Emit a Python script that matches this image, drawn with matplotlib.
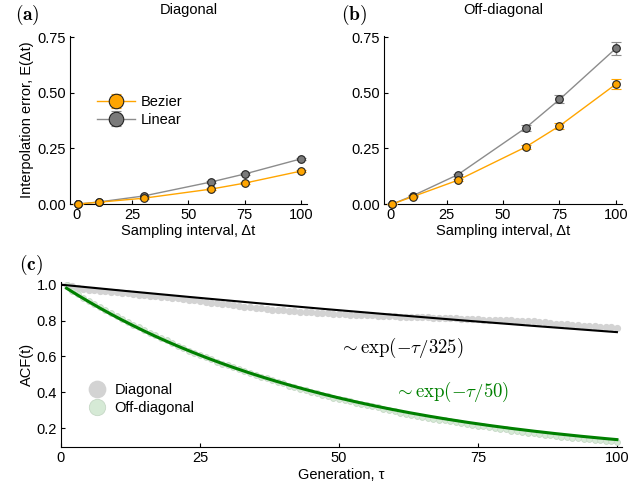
import numpy as np
import matplotlib
matplotlib.use("Agg")
import matplotlib.pyplot as plt

plt.rcParams['font.family'] = ['Liberation Sans', 'DejaVu Sans']
plt.rcParams['mathtext.fontset'] = 'cm'
plt.rcParams['font.size'] = 10

# ---- panel (a) and (b): interpolation error ----
dt = [1, 10, 30, 60, 75, 100]

diag_bezier = [0.0, 0.008, 0.026, 0.067, 0.094, 0.148]
diag_bezier_err = [0.0, 0.001, 0.002, 0.003, 0.004, 0.005]
diag_linear = [0.0, 0.009, 0.036, 0.099, 0.135, 0.203]
diag_linear_err = [0.0, 0.001, 0.002, 0.003, 0.004, 0.005]

off_bezier = [0.0, 0.033, 0.107, 0.256, 0.351, 0.539]
off_bezier_err = [0.0, 0.002, 0.004, 0.009, 0.015, 0.021]
off_linear = [0.0, 0.037, 0.132, 0.342, 0.470, 0.700]
off_linear_err = [0.0, 0.002, 0.005, 0.012, 0.018, 0.030]

# ---- panel (c): autocorrelation ----
gen = list(range(1, 101))
acf_diag = [1.000, 0.990, 0.980, 0.975, 0.970, 0.968, 0.965, 0.962, 0.960, 0.957,
            0.954, 0.951, 0.948, 0.945, 0.942, 0.939, 0.936, 0.933, 0.930, 0.927,
            0.924, 0.920, 0.916, 0.912, 0.908, 0.904, 0.900, 0.896, 0.893, 0.890,
            0.886, 0.882, 0.878, 0.874, 0.870, 0.867, 0.864, 0.861, 0.858, 0.856,
            0.854, 0.852, 0.850, 0.848, 0.846, 0.844, 0.842, 0.840, 0.838, 0.836,
            0.835, 0.833, 0.832, 0.831, 0.830, 0.828, 0.827, 0.826, 0.825, 0.823,
            0.822, 0.821, 0.820, 0.819, 0.818, 0.817, 0.816, 0.815, 0.814, 0.813,
            0.812, 0.811, 0.810, 0.808, 0.806, 0.805, 0.804, 0.803, 0.803, 0.802,
            0.801, 0.800, 0.800, 0.798, 0.795, 0.792, 0.789, 0.786, 0.783, 0.780,
            0.778, 0.776, 0.774, 0.772, 0.770, 0.768, 0.766, 0.764, 0.762, 0.760]
acf_off = [1.000, 0.966, 0.947, 0.928, 0.910, 0.892, 0.874, 0.857, 0.840, 0.824,
           0.808, 0.792, 0.776, 0.761, 0.746, 0.731, 0.717, 0.703, 0.689, 0.675,
           0.657, 0.644, 0.631, 0.619, 0.607, 0.595, 0.583, 0.571, 0.560, 0.549,
           0.538, 0.527, 0.517, 0.507, 0.497, 0.487, 0.477, 0.468, 0.458, 0.449,
           0.435, 0.427, 0.418, 0.410, 0.402, 0.394, 0.386, 0.378, 0.370, 0.363,
           0.356, 0.348, 0.341, 0.335, 0.328, 0.321, 0.315, 0.308, 0.302, 0.296,
           0.285, 0.279, 0.274, 0.268, 0.263, 0.257, 0.252, 0.247, 0.242, 0.237,
           0.232, 0.227, 0.222, 0.218, 0.213, 0.209, 0.204, 0.200, 0.196, 0.192,
           0.185, 0.181, 0.177, 0.173, 0.170, 0.166, 0.163, 0.159, 0.156, 0.152,
           0.149, 0.146, 0.143, 0.140, 0.137, 0.134, 0.131, 0.128, 0.125, 0.122]
tau_diag = 325
tau_off = 50

orange = '#FFA500'
gray = '#7a7a7a'


def style(ax):
    ax.spines['top'].set_visible(False)
    ax.spines['right'].set_visible(False)
    ax.tick_params(direction='in', length=3, width=0.8, labelsize=10.5,
                   top=False, right=False, pad=3)


def err_panel(ax, bez, bez_err, lin, lin_err):
    ax.errorbar(dt, lin, yerr=lin_err, color='#8c8c8c', lw=1, marker='o', ms=5.5,
                mfc=gray, mec='#222222', mew=0.8, capsize=3.5, elinewidth=1,
                ecolor='#8c8c8c', label='Linear', clip_on=False, zorder=3)
    ax.errorbar(dt, bez, yerr=bez_err, color=orange, lw=1, marker='o', ms=5.5,
                mfc=orange, mec='#222222', mew=0.8, capsize=3.5, elinewidth=1,
                ecolor=orange, label='Bezier', clip_on=False, zorder=4)
    ax.set_xlim(-2.7, 102.7)
    ax.set_ylim(0, 0.755)
    ax.set_xticks([0, 25, 50, 75, 100])
    ax.set_yticks([0, 0.25, 0.5, 0.75])
    ax.set_yticklabels(['0.00', '0.25', '0.50', '0.75'])
    ax.set_xlabel('Sampling interval, Δt', fontsize=10.5, labelpad=1)
    style(ax)


fig = plt.figure(figsize=(6.44, 4.91), dpi=100)

ax1 = fig.add_axes([0.1087, 0.5845, 0.368, 0.342])
err_panel(ax1, diag_bezier, diag_bezier_err, diag_linear, diag_linear_err)
ax1.set_ylabel('Interpolation error, E(Δt)', fontsize=10.5, labelpad=2)
ax1.set_title('Diagonal', fontsize=10.5, pad=16)
h, l = ax1.get_legend_handles_labels()
ax1.legend(h[::-1], l[::-1], loc='center left', bbox_to_anchor=(0.06, 0.555),
           frameon=False, markerscale=1.9, handlelength=2.6, fontsize=10.5,
           labelspacing=0.25, handletextpad=0.4)

ax2 = fig.add_axes([0.5963, 0.5845, 0.3696, 0.342])
err_panel(ax2, off_bezier, off_bezier_err, off_linear, off_linear_err)
ax2.set_title('Off-diagonal', fontsize=10.5, pad=16)

ax3 = fig.add_axes([0.0947, 0.0896, 0.871, 0.3361])
ax3.plot(gen, acf_diag, 'o', ms=4.2, color='#d3d3d3', mec='#d3d3d3', label='Diagonal', zorder=2)
ax3.plot(gen, acf_off, 'o', ms=4.2, color='#d6ead6', mec='#c6d8c6', mew=0.6,
         label='Off-diagonal', zorder=2)
t_fit = np.linspace(0, 100, 200)
ax3.plot(t_fit, np.exp(-t_fit / tau_diag), color='black', lw=1.5, zorder=3)
t_fit2 = np.linspace(1, 100, 200)
ax3.plot(t_fit2, np.exp(-t_fit2 / tau_off), color='#008000', lw=2.2, zorder=3)
ax3.text(50.0, 0.645, r'$\sim \exp(-\tau/325)$', fontsize=13.5, color='black', va='center')
ax3.text(59.9, 0.40, r'$\sim \exp(-\tau/50)$', fontsize=13.5, color='#008000', va='center')
ax3.set_xlim(0, 100.9)
ax3.set_ylim(0.094, 1.015)
ax3.set_xticks([0, 25, 50, 75, 100])
ax3.set_yticks([0.2, 0.4, 0.6, 0.8, 1.0])
ax3.set_xlabel('Generation, τ', fontsize=10.5, labelpad=2)
ax3.set_ylabel('ACF(t)', fontsize=10.5, labelpad=2)
style(ax3)
ax3.legend(loc='center left', bbox_to_anchor=(0.025, 0.29), frameon=False,
           markerscale=2.8, handlelength=1.2, fontsize=10.5, labelspacing=0.3,
           handletextpad=0.6)

fig.text(0.024, 0.995, r'$\mathbf{(a)}$', fontsize=14, va='top')
fig.text(0.530, 0.995, r'$\mathbf{(b)}$', fontsize=14, va='top')
fig.text(0.030, 0.485, r'$\mathbf{(c)}$', fontsize=14, va='top')

fig.savefig('out.png', dpi=100)
